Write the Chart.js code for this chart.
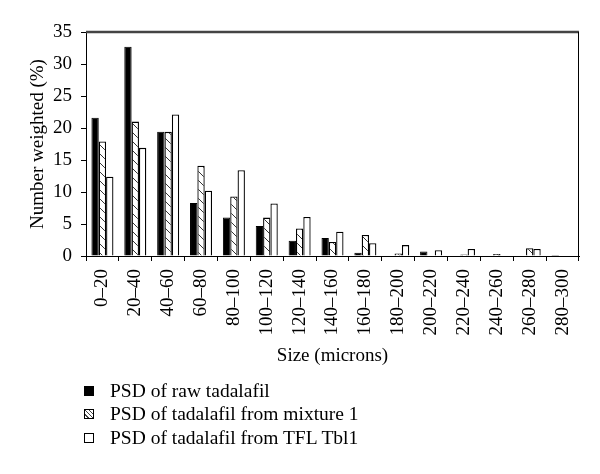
<!DOCTYPE html>
<html>
<head>
<meta charset="utf-8">
<script src="https://cdn.jsdelivr.net/npm/chart.js@4.4.1/dist/chart.umd.min.js"></script>
<style>
  html, body { margin: 0; padding: 0; background: #fff; }
  #wrap { position: relative; width: 600px; height: 474px; }
  #c { position: absolute; left: 0; top: 0; }
  .leg { position: absolute; left: 84px; font-family: "Liberation Serif", serif; font-size: 19.5px; color: #000; white-space: nowrap; line-height: 22px; }
  .leg .sw { position: absolute; left: 0; top: 6px; width: 8px; height: 8px; border: 1px solid #000; }
  .leg .tx { position: absolute; left: 26px; top: 0px; }
</style>
</head>
<body>
<div id="wrap">
  <canvas id="c" width="600" height="474"></canvas>
  <div class="leg" style="top:380px"><div class="sw" style="background:#000"></div><div class="tx">PSD of raw tadalafil</div></div>
  <div class="leg" style="top:403px"><div class="sw" style="background:repeating-linear-gradient(45deg,#fff 0 2px,#444 2px 3px)"></div><div class="tx">PSD of tadalafil from mixture 1</div></div>
  <div class="leg" style="top:427px"><div class="sw" style="background:#fff"></div><div class="tx">PSD of tadalafil from TFL Tbl1</div></div>
</div>
<script>
const categories = ["0–20","20–40","40–60","60–80","80–100","100–120","120–140","140–160","160–180","180–200","200–220","220–240","240–260","260–280","280–300"];
const seriesNames = ["PSD of raw tadalafil","PSD of tadalafil from mixture 1","PSD of tadalafil from TFL Tbl1"];
const rawTadalafil = [21.6, 32.7, 19.4, 8.3, 6.0, 4.7, 2.4, 2.8, 0.5, null, 0.7, null, null, null, 0.15];
const mixture1 = [17.9, 21.0, 19.4, 14.1, 9.3, 6.0, 4.3, 2.2, 3.3, 0.4, null, 0.25, 0.3, 1.2, null];
const tflTbl1 = [12.4, 16.9, 22.1, 10.2, 13.4, 8.2, 6.1, 3.8, 2.0, 1.7, 0.9, 1.1, null, 1.1, null];
const yTicks = [0, 5, 10, 15, 20, 25, 30, 35];

function hatchPattern() {
  const p = 9;
  const cv = document.createElement('canvas');
  cv.width = p; cv.height = p;
  const g = cv.getContext('2d');
  g.fillStyle = '#fff';
  g.fillRect(0, 0, p, p);
  g.strokeStyle = '#333';
  g.lineWidth = 1;
  g.beginPath();
  g.moveTo(-1, -1); g.lineTo(p + 1, p + 1);
  g.moveTo(-1, p - 1); g.lineTo(1, p + 1);
  g.moveTo(p - 1, -1); g.lineTo(p + 1, 1);
  g.stroke();
  return g.createPattern(cv, 'repeat');
}

const FONT = "'Liberation Serif', serif";
const FS = 19;

const framePlugin = {
  id: 'frame',
  afterDraw(chart) {
    const a = chart.chartArea, ctx = chart.ctx;
    ctx.save();
    ctx.strokeStyle = '#444';
    ctx.lineWidth = 2.5;
    ctx.beginPath();
    ctx.moveTo(a.left, a.top); ctx.lineTo(a.right, a.top);
    ctx.stroke();
    ctx.strokeStyle = '#000';
    ctx.lineWidth = 1;
    ctx.beginPath();
    ctx.moveTo(a.right - 0.5, a.top); ctx.lineTo(a.right - 0.5, a.bottom);
    ctx.stroke();
    ctx.restore();
  }
};

new Chart(document.getElementById('c'), {
  type: 'bar',
  data: {
    labels: categories,
    datasets: [
      { label: seriesNames[0], data: rawTadalafil, backgroundColor: '#000', borderColor: '#000', borderWidth: 1 },
      { label: seriesNames[1], data: mixture1, backgroundColor: hatchPattern(), borderColor: '#000', borderWidth: 1.3 },
      { label: seriesNames[2], data: tflTbl1, backgroundColor: '#fff', borderColor: '#000', borderWidth: 1.3 }
    ]
  },
  options: {
    responsive: false,
    animation: false,
    events: [],
    layout: { padding: { left: 0, right: 21, top: 32, bottom: 105 } },
    datasets: { bar: { categoryPercentage: 0.67, barPercentage: 1.0 } },
    plugins: { legend: { display: false }, tooltip: { enabled: false } },
    scales: {
      x: {
        grid: { drawOnChartArea: false, drawTicks: true, tickLength: 5, color: '#000', offset: true },
        border: { color: '#000', width: 1 },
        ticks: { color: '#000', font: { family: FONT, size: FS }, minRotation: 90, maxRotation: 90, padding: 8, autoSkip: false },
        title: { display: true, text: 'Size (microns)', color: '#000', font: { family: FONT, size: FS }, padding: { top: 4, bottom: 2 } },
        afterFit(s) { s.height = 113; }
      },
      y: {
        min: 0, max: 35,
        afterBuildTicks(s) { s.ticks = yTicks.map(v => ({ value: v })); },
        grid: { drawOnChartArea: false, drawTicks: true, tickLength: 5, color: '#000' },
        border: { color: '#000', width: 1 },
        ticks: { color: '#000', font: { family: FONT, size: FS }, padding: 9 },
        title: { display: true, text: 'Number weighted (%)', color: '#000', font: { family: FONT, size: FS }, padding: { top: 27, bottom: 4 } },
        afterFit(s) { s.width = 86; }
      }
    }
  },
  plugins: [framePlugin]
});
</script>
</body>
</html>
